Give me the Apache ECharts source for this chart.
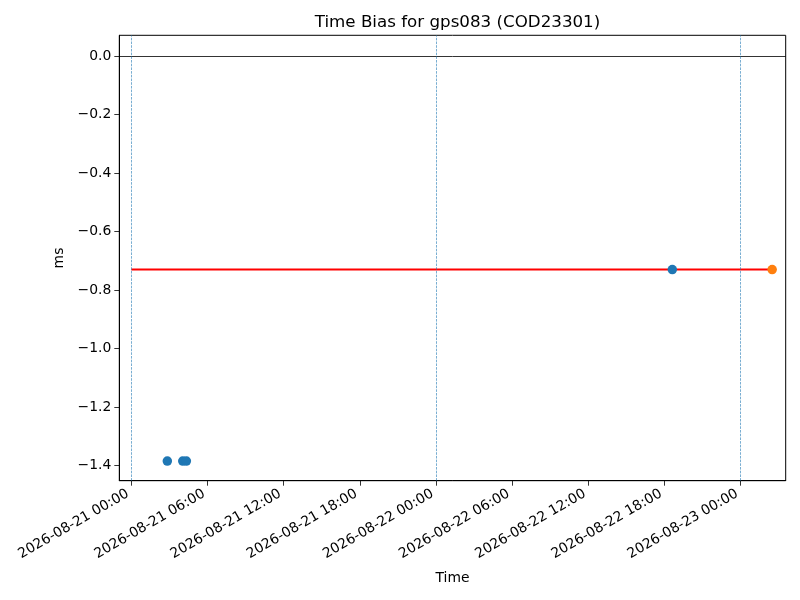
<!DOCTYPE html>
<html>
<head>
<meta charset="utf-8">
<title>Time Bias for gps083 (COD23301)</title>
<script src="https://cdn.jsdelivr.net/npm/echarts@6/dist/echarts.min.js"></script>
<style>
  html, body { margin: 0; padding: 0; background: #fff; }
  #chart { width: 800px; height: 600px; }
</style>
</head>
<body>
<div id="chart"></div>
<script>
"use strict";

// tick labels
var xTicks = ['2026-08-21 00:00', '2026-08-21 06:00', '2026-08-21 12:00', '2026-08-21 18:00',
              '2026-08-22 00:00', '2026-08-22 06:00', '2026-08-22 12:00', '2026-08-22 18:00',
              '2026-08-23 00:00'];
var yTicks = [0, -0.2, -0.4, -0.6, -0.8, -1.0, -1.2, -1.4];
var xRange = ['2026-08-20 23:03', '2026-08-23 03:33'];
var yRange = [-1.452, 0.071];

// measurements
var blueTimes = ['2026-08-21 02:50', '2026-08-21 04:03', '2026-08-21 04:20', '2026-08-22 18:37'];
var blueValues = [-1.385, -1.385, -1.385, -0.73];
var orangeTimes = ['2026-08-23 02:29'];
var orangeValues = [-0.73];

// mean bias line
var meanTimes = ['2026-08-21 00:00', '2026-08-23 02:29'];
var meanValues = [-0.73, -0.73];

// day separators
var dayLines = ['2026-08-21 00:00', '2026-08-22 00:00', '2026-08-23 00:00'];

function toTs(s) {
    return new Date(s.replace(' ', 'T') + ':00').getTime();
}

function pairs(times, values) {
    return times.map(function (t, i) { return [toTs(t), values[i]]; });
}

var font = 'DejaVu Sans';
var chart = echarts.init(document.getElementById('chart'));

chart.setOption({
    animation: false,
    backgroundColor: '#fff',
    title: {
        text: 'Time Bias for gps083 (COD23301)',
        left: 452.5,
        top: 9,
        textAlign: 'center',
        textStyle: { fontFamily: font, fontSize: 16.7, fontWeight: 'normal', color: '#000' }
    },
    grid: {
        left: 119.3, right: 14.3, top: 35.3, bottom: 119.3,
        show: true, borderColor: '#000', borderWidth: 1, backgroundColor: 'transparent'
    },
    xAxis: {
        type: 'value',
        min: toTs(xRange[0]),
        max: toTs(xRange[1]),
        name: 'Time',
        nameLocation: 'middle',
        nameGap: 91,
        nameTextStyle: { fontFamily: font, fontSize: 13.9, color: '#000' },
        axisLine: { onZero: false, lineStyle: { color: '#000', width: 1 } },
        axisTick: {
            show: true, inside: false, length: 5, lineStyle: { color: '#000', width: 0.8 },
            customValues: xTicks.map(toTs)
        },
        splitLine: { show: false },
        axisLabel: {
            customValues: xTicks.map(toTs),
            rotate: 30,
            margin: 10,
            padding: [0, 4, 0, 0],
            fontFamily: font,
            fontSize: 13.9,
            color: '#000',
            formatter: function (v) {
                return echarts.time.format(v, '{yyyy}-{MM}-{dd} {HH}:{mm}', false);
            }
        }
    },
    yAxis: {
        type: 'value',
        min: yRange[0],
        max: yRange[1],
        name: 'ms',
        nameLocation: 'middle',
        nameGap: 49,
        nameTextStyle: { fontFamily: font, fontSize: 13.9, color: '#000' },
        axisLine: { show: true, onZero: false, lineStyle: { color: '#000', width: 1 } },
        axisTick: {
            show: true, inside: false, length: 5, lineStyle: { color: '#000', width: 0.8 },
            customValues: yTicks
        },
        splitLine: { show: false },
        axisLabel: {
            customValues: yTicks,
            margin: 8,
            fontFamily: font,
            fontSize: 13.9,
            color: '#000',
            formatter: function (v) {
                return v.toFixed(1).replace('-', '\u2212');
            }
        }
    },
    series: [
        {
            name: 'mean',
            type: 'line',
            data: pairs(meanTimes, meanValues),
            showSymbol: false,
            lineStyle: { color: '#ff0000', width: 2 },
            z: 2,
            markLine: {
                silent: true,
                symbol: 'none',
                label: { show: false },
                data: [
                    { yAxis: 0, lineStyle: { color: '#000', width: 0.8, type: 'solid' } }
                ].concat(dayLines.map(function (d) {
                    return { xAxis: toTs(d), lineStyle: { color: '#1f77b4', width: 0.6, type: [2.6, 1.1] } };
                }))
            }
        },
        {
            name: 'blue',
            type: 'scatter',
            data: pairs(blueTimes, blueValues),
            symbolSize: 9.5,
            itemStyle: { color: '#1f77b4', opacity: 1 },
            z: 3
        },
        {
            name: 'orange',
            type: 'scatter',
            data: pairs(orangeTimes, orangeValues),
            symbolSize: 9.5,
            itemStyle: { color: '#ff7f0e', opacity: 1 },
            z: 3
        }
    ]
});
</script>
</body>
</html>
